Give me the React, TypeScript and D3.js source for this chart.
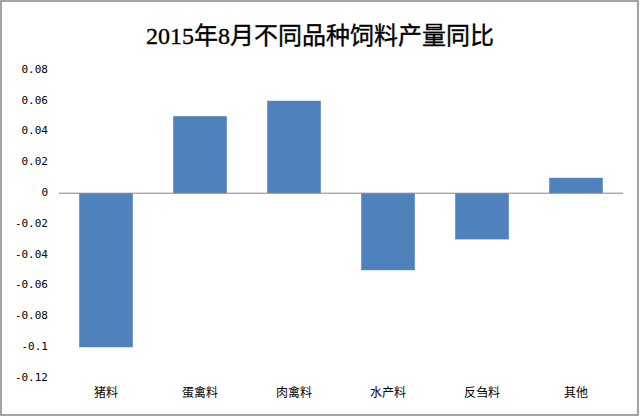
import React from "react";
import * as d3 from "d3";

const categories = ["猪料", "蛋禽料", "肉禽料", "水产料", "反刍料", "其他"];
const values = [-0.1, 0.05, 0.06, -0.05, -0.03, 0.01];
const yTicks = [0.08, 0.06, 0.04, 0.02, 0, -0.02, -0.04, -0.06, -0.08, -0.1, -0.12];
const title = "2015年8月不同品种饲料产量同比";

export default function App() {
  const W = 640, H = 417;
  const x = d3.scaleBand<string>().domain(categories).range([59, 623]).paddingInner(0.43).paddingOuter(0.215);
  const y = d3.scaleLinear().domain([-0.12, 0.08]).range([378, 70]);
  const fmt = (v: number) => (v === 0 ? "0" : String(+v.toFixed(2)));
  return (
    <svg width={W} height={H} style={{ position: "absolute", left: 0, top: 0, background: "#fff" }}>
      <rect x={1} y={1} width={W - 3} height={H - 3} fill="#fff" stroke="#868686" strokeWidth={1.5} />
      <text x={320} y={44} textAnchor="middle" fontFamily="'Liberation Serif', 'Noto Sans CJK SC'" fontSize={24} fill="#000" stroke="#000" strokeWidth={0.35}>{title}</text>
      {yTicks.map((t) => (
        <text key={t} x={48} y={y(t) - 1} dy="0.35em" textAnchor="end" fontFamily="'DejaVu Sans Mono', 'Noto Sans CJK SC'" fontSize={11} fill="#000">{fmt(t)}</text>
      ))}
      {categories.map((c, i) => {
        const v = values[i];
        const y0 = y(Math.max(0, v));
        const y1 = y(Math.min(0, v));
        return <rect key={c} x={x(c)} y={y0} width={x.bandwidth()} height={y1 - y0} fill="#4F81BD" />;
      })}
      <line x1={59} x2={623} y1={y(0)} y2={y(0)} stroke="#868686" strokeWidth={1} />
      {categories.map((c) => (
        <text key={c} x={(x(c) as number) + x.bandwidth() / 2} y={393} dy="0.35em" textAnchor="middle" fontFamily="'Noto Sans CJK SC'" fontSize={12} fill="#000">{c}</text>
      ))}
    </svg>
  );
}
